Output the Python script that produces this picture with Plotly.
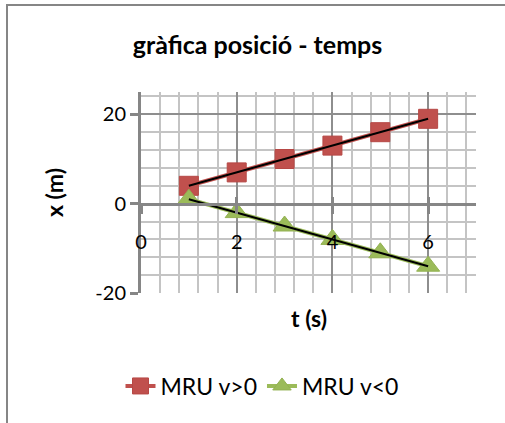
import numpy as np
import plotly.graph_objects as go

# ---- data ----
t = [1, 2, 3, 4, 5, 6]
x_pos = [4, 7, 10, 13, 16, 19]
x_neg = [1, -2, -5, -8, -11, -14]
series_names = ["MRU v>0", "MRU v<0"]
x_ticks = [0, 2, 4, 6]
y_ticks = [-20, 0, 20]
title_text = "gràfica posició - temps"
x_title = "t (s)"
y_title = "x (m)"

RED = "#C0504D"
GREEN = "#9BBB59"
AXIS = "#868686"
GRID_MAJ = "#8E8E8E"
GRID_MIN = "#C4C4C4"
FONT = "Lato"

# plot area in pixels
W, H = 505, 423
L, R, T, B = 141, 476, 92, 293

fig = go.Figure()
# invisible copy of a series on the overlay axis so that the cross tick marks are drawn
fig.add_trace(go.Scatter(x=t, y=x_pos, xaxis="x2", mode="markers", showlegend=False,
                         hoverinfo="skip", marker=dict(opacity=0)))
fig.add_trace(go.Scatter(
    x=t, y=x_pos, mode="lines+markers", name=series_names[0],
    line=dict(color=RED, width=4),
    marker=dict(symbol="square", size=19, color=RED, line=dict(color="#B64845", width=1)),
))
fig.add_trace(go.Scatter(
    x=t, y=x_neg, mode="lines+markers", name=series_names[1],
    line=dict(color=GREEN, width=4),
    marker=dict(symbol="triangle-up", size=20, color=GREEN, line=dict(color="#93B152", width=1)),
))
# linear trendlines (least squares fit of each series)
tt = np.array(t, dtype=float)
for ys in (x_pos, x_neg):
    m, b = np.polyfit(tt, np.array(ys, dtype=float), 1)
    fig.add_trace(go.Scatter(
        x=tt, y=m * tt + b, mode="lines", showlegend=False, hoverinfo="skip",
        line=dict(color="black", width=2),
    ))

xmin, xmax = 0, 7
ymin, ymax = -20, 25
x_axis_pos = (0 - ymin) / (ymax - ymin)

fig.update_layout(
    width=W, height=H, autosize=False,
    margin=dict(l=L, r=W - R, t=T, b=H - B, pad=0, autoexpand=False),
    paper_bgcolor="white", plot_bgcolor="white",
    font=dict(family=FONT, size=19, color="black"),
    title=dict(text="<b>" + title_text + "</b>", xref="container", x=0.51, xanchor="center",
               yref="container", y=1 - 45 / H, yanchor="middle",
               font=dict(family=FONT, size=25, color="black")),
    showlegend=True,
    legend=dict(orientation="h", xref="paper", x=(262 - L) / (R - L), xanchor="center",
                yref="paper", y=(B - 386) / (B - T), yanchor="middle",
                font=dict(family=FONT, size=23, color="black"), bgcolor="rgba(0,0,0,0)"),
    xaxis=dict(
        range=[xmin, xmax], tickvals=x_ticks, ticktext=[str(v) for v in x_ticks],
        showgrid=True, gridcolor=GRID_MAJ, gridwidth=1.5,
        minor=dict(dtick=0.4, tick0=0, showgrid=True, gridcolor=GRID_MIN, gridwidth=1.5),
        anchor="free", position=x_axis_pos,
        showline=True, linecolor=AXIS, linewidth=3,
        ticks="outside", ticklen=8, tickwidth=3, tickcolor=AXIS,
        ticklabelstandoff=11,
        zeroline=False, fixedrange=True,
        tickfont=dict(family=FONT, size=20, color="black"),
    ),
    xaxis2=dict(
        range=[xmin, xmax], overlaying="x", anchor="free", position=x_axis_pos,
        tickvals=x_ticks[1:], showticklabels=False, showgrid=False, showline=False,
        ticks="inside", ticklen=7, tickwidth=3, tickcolor=AXIS, zeroline=False,
        fixedrange=True,
    ),
    yaxis=dict(
        range=[ymin, ymax], tickvals=y_ticks, ticktext=[str(v) for v in y_ticks],
        showgrid=True, gridcolor=GRID_MAJ, gridwidth=1.5,
        minor=dict(dtick=4, tick0=0, showgrid=True, gridcolor=GRID_MIN, gridwidth=1.5),
        showline=True, linecolor=AXIS, linewidth=3,
        ticks="outside", ticklen=8, tickwidth=3, tickcolor=AXIS,
        zeroline=False, fixedrange=True,
        tickfont=dict(family=FONT, size=20, color="black"),
        title=dict(text="<b>" + y_title + "</b>", standoff=26,
                   font=dict(family=FONT, size=23, color="black")),
    ),
    annotations=[dict(
        text="<b>" + x_title + "</b>", xref="paper", x=0.5, xanchor="center",
        yref="paper", y=(B - 318) / (B - T), yanchor="middle", showarrow=False,
        font=dict(family=FONT, size=23, color="black"),
    )],
    shapes=[dict(
        type="rect", xref="paper", yref="paper",
        x0=(7 - L) / (R - L), x1=(W + 20 - L) / (R - L),
        y0=(B - (H + 20)) / (B - T), y1=(B - 5) / (B - T),
        line=dict(color=AXIS, width=2), fillcolor="rgba(0,0,0,0)", layer="above",
    )],
)

fig.write_html("out.html")
